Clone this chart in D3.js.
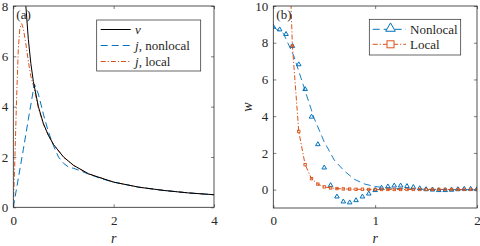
<!DOCTYPE html>
<html>
<head>
<meta charset="utf-8">
<script src="https://cdn.jsdelivr.net/npm/d3@7"></script>
<style>
  body { margin: 0; background: #fff; }
</style>
</head>
<body>
<div id="chart"></div>
<script>
// panel (a) data
var rV = [0.25, 0.3, 0.35, 0.4, 0.5, 0.6, 0.7, 0.8, 1, 1.2, 1.5, 2, 2.5, 3, 3.5, 4];
var vVals = [8, 6.67, 5.71, 5, 4, 3.33, 2.86, 2.5, 2, 1.67, 1.33, 1, 0.8, 0.67, 0.57, 0.5];
var rJn = [0, 0.1, 0.2, 0.3, 0.42, 0.5, 0.6, 0.7, 0.8, 0.9, 1.0, 1.1, 1.2, 1.3, 1.5, 1.75, 2, 2.5, 3, 3.5, 4];
var jNonlocal = [0, 1.15, 2.3, 3.5, 4.9, 4.5, 3.7, 3.0, 2.45, 2.0, 1.75, 1.6, 1.55, 1.48, 1.32, 1.14, 1.0, 0.8, 0.67, 0.57, 0.5];
var rJl = [0, 0.03, 0.065, 0.1, 0.13, 0.167, 0.2, 0.25, 0.3, 0.35, 0.4, 0.5, 0.6, 0.7, 0.8, 1, 1.2, 1.5, 2, 2.5, 3, 3.5, 4];
var jLocal = [0, 1.8, 4.3, 6.3, 7.1, 7.3, 7.1, 6.5, 5.8, 5.2, 4.85, 3.95, 3.3, 2.85, 2.5, 2.0, 1.66, 1.33, 1.0, 0.8, 0.67, 0.57, 0.5];

// panel (b) data
var rLineN = [0, 0.1, 0.2, 0.3, 0.4, 0.5, 0.6, 0.7, 0.8, 0.9, 1.0, 1.1, 1.3, 1.6, 2];
var wLineN = [8.85, 8.5, 7.3, 5.6, 3.9, 2.6, 1.6, 1.0, 0.55, 0.3, 0.17, 0.1, 0.04, 0.01, 0];
var rMarkN = [0, 0.0625, 0.125, 0.1875, 0.25, 0.3125, 0.375, 0.4375, 0.5, 0.5625, 0.625, 0.6875, 0.75, 0.8125, 0.875, 0.9375, 1,
  1.0625, 1.125, 1.1875, 1.25, 1.3125, 1.375, 1.4375, 1.5, 1.5625, 1.625, 1.6875, 1.75, 1.8125, 1.875, 1.9375, 2];
var wMarkN = [8.85, 8.7, 8.45, 7.8, 6.8, 5.45, 3.95, 2.45, 1.18, 0.22, -0.4, -0.67, -0.72, -0.6, -0.4, -0.24, -0.05,
  0.08, 0.15, 0.2, 0.2, 0.17, 0.12, 0.05, 0.0, -0.02, -0.05, -0.05, -0.03, 0, 0.02, 0.02, 0];
var rLocal = [0.15, 0.1875, 0.25, 0.3125, 0.375, 0.4375, 0.5, 0.5625, 0.625, 0.6875, 0.75, 0.8125, 0.875, 0.9375, 1,
  1.0625, 1.125, 1.1875, 1.25, 1.3125, 1.375, 1.4375, 1.5, 1.5625, 1.625, 1.6875, 1.75, 1.8125, 1.875, 1.9375, 2];
var wLocal = [14, 7.83, 3.17, 1.36, 0.6, 0.3, 0.15, 0.09, 0.06, 0.04, 0.03, 0.02, 0.02, 0.01, 0.01,
  0.01, 0.01, 0.01, 0.01, 0.01, 0.01, 0.01, 0.01, 0.01, 0.01, 0.01, 0.01, 0.01, 0.01, 0.01, 0.01];

var blue = "#0072BD", orange = "#D95319", ink = "#262626";
var serif = "'Liberation Serif', 'DejaVu Serif', serif";

var svg = d3.select("#chart").append("svg")
  .attr("width", 480).attr("height", 246);

function zip(xs, ys) { return xs.map(function (x, i) { return [x, ys[i]]; }); }

function label(sel, size, italic) {
  return sel.attr("font-family", serif).attr("font-size", size)
    .attr("font-style", italic ? "italic" : "normal").attr("fill", ink);
}

function panel(opt) {
  var x = d3.scaleLinear().domain(opt.xd).range([opt.x0, opt.x1]);
  var y = d3.scaleLinear().domain(opt.yd).range([opt.y1, opt.y0]);
  var g = svg.append("g");

  g.append("clipPath").attr("id", opt.id)
    .append("rect").attr("x", opt.x0).attr("y", opt.y0)
    .attr("width", opt.x1 - opt.x0).attr("height", opt.y1 - opt.y0);

  // ticks inside, on all four sides
  function fix(a) {
    a.select(".domain").remove();
    a.attr("font-family", serif).attr("font-size", 13);
    a.selectAll("text").attr("fill", ink);
  }
  g.append("g").attr("transform", "translate(0," + opt.y1 + ")")
    .call(d3.axisBottom(x).tickValues(opt.xt).tickSizeInner(-3).tickSizeOuter(0).tickPadding(8).tickFormat(d3.format("d")))
    .call(fix);
  g.append("g").attr("transform", "translate(0," + opt.y0 + ")")
    .call(d3.axisTop(x).tickValues(opt.xt).tickSizeInner(-3).tickSizeOuter(0).tickFormat(""))
    .call(fix);
  g.append("g").attr("transform", "translate(" + opt.x0 + ",0)")
    .call(d3.axisLeft(y).tickValues(opt.yt).tickSizeInner(-3).tickSizeOuter(0).tickPadding(5).tickFormat(d3.format("d")))
    .call(fix);
  g.append("g").attr("transform", "translate(" + opt.x1 + ",0)")
    .call(d3.axisRight(y).tickValues(opt.yt).tickSizeInner(-3).tickSizeOuter(0).tickFormat(""))
    .call(fix);
  g.selectAll(".tick line").attr("stroke", ink).attr("stroke-width", 0.6);

  var plot = g.append("g").attr("clip-path", "url(#" + opt.id + ")");

  g.append("rect").attr("x", opt.x0).attr("y", opt.y0)
    .attr("width", opt.x1 - opt.x0).attr("height", opt.y1 - opt.y0)
    .attr("fill", "none").attr("stroke", ink).attr("stroke-width", 0.8);

  label(g.append("text"), 13, false).attr("x", opt.x0 + 3).attr("y", opt.y0 + 13).text(opt.tag);
  label(g.append("text"), 14, true).attr("x", (opt.x0 + opt.x1) / 2).attr("y", 243)
    .attr("text-anchor", "middle").text("r");
  if (opt.ylab) {
    label(g.append("text"), 14, true)
      .attr("transform", "translate(" + opt.ylabX + "," + ((opt.y0 + opt.y1) / 2) + ") rotate(-90)")
      .attr("text-anchor", "middle").text(opt.ylab);
  }
  return { x: x, y: y, g: g, plot: plot };
}

// ---- panel (a)
var A = panel({ id: "clipA", x0: 13.3, x1: 214, y0: 6, y1: 207.3, xd: [0, 4], yd: [0, 8],
  xt: [0, 2, 4], yt: [0, 2, 4, 6, 8], tag: "(a)" });
var lineA = d3.line().x(function (d) { return A.x(d[0]); }).y(function (d) { return A.y(d[1]); });
A.plot.append("path").datum(zip(rJl, jLocal)).attr("d", lineA)
  .attr("fill", "none").attr("stroke", orange).attr("stroke-width", 1).attr("stroke-dasharray", "5,2,1.2,2");
A.plot.append("path").datum(zip(rJn, jNonlocal)).attr("d", lineA)
  .attr("fill", "none").attr("stroke", blue).attr("stroke-width", 1).attr("stroke-dasharray", "7,4");
A.plot.append("path").datum(zip(rV, vVals)).attr("d", lineA)
  .attr("fill", "none").attr("stroke", "#000").attr("stroke-width", 1);

// legend (a)
var legA = A.g.append("g");
legA.append("rect").attr("x", 96.7).attr("y", 20).attr("width", 104).attr("height", 51)
  .attr("fill", "#fff").attr("stroke", ink).attr("stroke-width", 0.7);
var legItemsA = [
  { c: "#000", dash: "none", label: "v", y: 29.5 },
  { c: blue, dash: "7,4", label: "j, nonlocal", y: 45.5 },
  { c: orange, dash: "5,2,1.2,2", label: "j, local", y: 61.5 }
];
legItemsA.forEach(function (d) {
  legA.append("line").attr("x1", 100.7).attr("x2", 130.7).attr("y1", d.y).attr("y2", d.y)
    .attr("stroke", d.c).attr("stroke-width", 1).attr("stroke-dasharray", d.dash);
  var t = label(legA.append("text"), 13, false).attr("x", 135).attr("y", d.y + 4.5);
  if (d.label === "v") {
    t.append("tspan").attr("font-style", "italic").text("v");
  } else {
    t.append("tspan").attr("font-style", "italic").text("j");
    t.append("tspan").text(d.label.slice(1));
  }
});

// ---- panel (b)
var B = panel({ id: "clipB", x0: 273.3, x1: 477, y0: 6, y1: 208, xd: [0, 2], yd: [-1, 10],
  xt: [0, 1, 2], yt: [0, 2, 4, 6, 8, 10], tag: "(b)", ylab: "w", ylabX: 252 });
var lineB = d3.line().x(function (d) { return B.x(d[0]); }).y(function (d) { return B.y(d[1]); });
B.plot.append("path").datum(zip(rLineN, wLineN)).attr("d", lineB)
  .attr("fill", "none").attr("stroke", blue).attr("stroke-width", 0.9).attr("stroke-dasharray", "7,4");
B.plot.append("path").datum(zip(rLocal, wLocal)).attr("d", lineB)
  .attr("fill", "none").attr("stroke", orange).attr("stroke-width", 1).attr("stroke-dasharray", "5,2,1.2,2");

var tri = d3.symbol().type(d3.symbolTriangle).size(9);
B.plot.selectAll(".tri").data(zip(rMarkN, wMarkN)).enter().append("path")
  .attr("d", tri)
  .attr("transform", function (d) { return "translate(" + B.x(d[0]) + "," + (B.y(d[1]) - 0.3) + ")"; })
  .attr("fill", "none").attr("stroke", blue).attr("stroke-width", 1);
B.plot.selectAll(".sq").data(zip(rLocal, wLocal).slice(1)).enter().append("rect")
  .attr("x", function (d) { return B.x(d[0]) - 1.2; })
  .attr("y", function (d) { return B.y(d[1]) - 1.2; })
  .attr("width", 2.4).attr("height", 2.4)
  .attr("fill", "none").attr("stroke", orange).attr("stroke-width", 0.9);

// legend (b)
var legB = B.g.append("g");
legB.append("rect").attr("x", 369.3).attr("y", 19.3).attr("width", 91.4).attr("height", 35.7)
  .attr("fill", "#fff").attr("stroke", ink).attr("stroke-width", 0.7);
legB.append("line").attr("x1", 372.7).attr("x2", 406).attr("y1", 29.3).attr("y2", 29.3)
  .attr("stroke", blue).attr("stroke-width", 1).attr("stroke-dasharray", "7,4");
legB.append("path").attr("d", d3.symbol().type(d3.symbolTriangle).size(40))
  .attr("transform", "translate(390.5,28.5)").attr("fill", "#fff").attr("stroke", blue).attr("stroke-width", 1);
legB.append("line").attr("x1", 372.7).attr("x2", 406).attr("y1", 44.3).attr("y2", 44.3)
  .attr("stroke", orange).attr("stroke-width", 1).attr("stroke-dasharray", "5,2,1.2,2");
legB.append("rect").attr("x", 387).attr("y", 40.8).attr("width", 7).attr("height", 7)
  .attr("fill", "#fff").attr("stroke", orange).attr("stroke-width", 1);
label(legB.append("text"), 13, false).attr("x", 410).attr("y", 33.8).text("Nonlocal");
label(legB.append("text"), 13, false).attr("x", 410).attr("y", 48.8).text("Local");
</script>
</body>
</html>
